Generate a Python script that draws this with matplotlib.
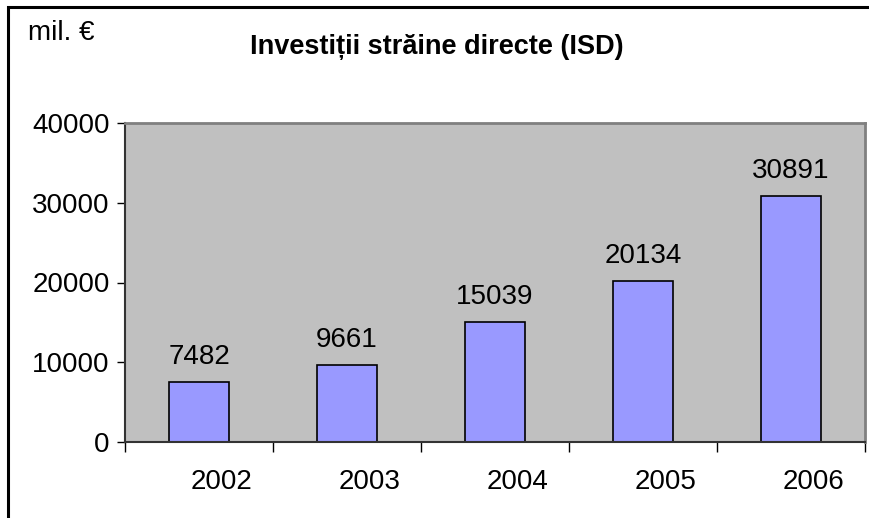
import numpy as np
import matplotlib
matplotlib.use("Agg")
import matplotlib.pyplot as plt
from matplotlib.patches import Rectangle

plt.rcParams['font.family'] = ['Liberation Sans', 'DejaVu Sans']

# date
ani = ['2002', '2003', '2004', '2005', '2006']
valori = [7482, 9661, 15039, 20134, 30891]
y_ticks = [0, 10000, 20000, 30000, 40000]

W, H = 869, 518
fig = plt.figure(figsize=(W / 100, H / 100), dpi=100)

# cadru exterior (taiat in dreapta si jos, ca in original)
fig.patches.append(Rectangle((8 / W, -0.05), 1.1, (H - 7) / H + 0.05,
                             transform=fig.transFigure, fill=False,
                             edgecolor='black', linewidth=2.2))

ax = fig.add_axes([125 / W, (H - 442) / H, (865 - 125) / W, (442 - 123) / H])
ax.set_facecolor('#C0C0C0')

x = np.arange(len(ani))
bars = ax.bar(x, valori, width=0.41, color='#9999FF', edgecolor='black', linewidth=1.2)

for xi, v in zip(x, valori):
    ax.text(xi, v + 1500, str(v), ha='center', va='bottom', fontsize=20)

ax.set_xlim(-0.5, len(ani) - 0.5)
ax.set_ylim(0, 40000)
ax.set_yticks(y_ticks)
ax.set_yticklabels([str(t) for t in y_ticks], fontsize=20)
ax.tick_params(axis='y', direction='out', length=6, width=1, pad=5)

# tick-uri intre categorii, etichete separate
ax.set_xticks(np.arange(-0.5, len(ani) + 0.5, 1))
ax.set_xticklabels([])
ax.tick_params(axis='x', direction='out', length=7, width=1)
for xi, a in zip(x, ani):
    ax.text(xi + 0.15, -0.085, a, transform=ax.get_xaxis_transform(),
            ha='center', va='top', fontsize=20)

for s in ['top', 'right']:
    ax.spines[s].set_color('#808080')
    ax.spines[s].set_linewidth(2)
ax.spines['left'].set_color('#333333')
ax.spines['bottom'].set_color('#333333')
ax.spines['left'].set_linewidth(1.5)
ax.spines['bottom'].set_linewidth(1.5)

fig.text(437 / W, 1 - 47 / H, 'Investiții străine directe (ISD)',
         ha='center', va='center', fontsize=19.5, fontweight='bold')
fig.text(28 / W, 1 - 33 / H, 'mil. €', ha='left', va='center', fontsize=20)

fig.savefig('out.png', dpi=100)
